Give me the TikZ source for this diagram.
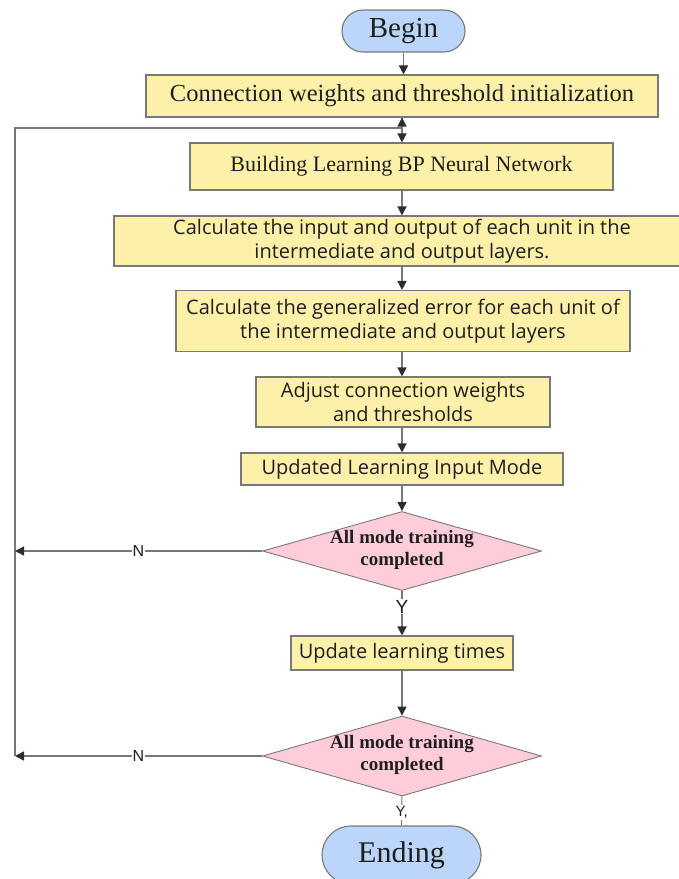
\documentclass[tikz,border=0pt]{standalone}
\usepackage{fontspec}
\setmainfont{Liberation Serif}
\newfontfamily\segoe{Open Sans}
\newfontfamily\arialf{Liberation Sans}
\usetikzlibrary{shapes.geometric,arrows.meta}
\definecolor{linegray}{RGB}{120,120,120}
\definecolor{boxyellow}{RGB}{253,241,170}
\definecolor{termblue}{RGB}{187,214,250}
\definecolor{diapink}{RGB}{255,205,218}
\definecolor{textdark}{RGB}{30,30,30}
\definecolor{tipdark}{RGB}{45,45,45}
\begin{document}
\begin{tikzpicture}[x=1pt,y=-1pt,
  box/.style={draw=linegray, fill=boxyellow, line width=1.1pt, inner sep=0pt, align=center, text=textdark},
  term/.style={draw=linegray, fill=termblue, line width=1.1pt, inner sep=0pt, text=textdark},
  dia/.style={diamond, draw=linegray, fill=diapink, line width=0.9pt, inner sep=0pt, minimum width=279pt},
  arr/.style={draw=linegray, line width=1.4pt, -{Triangle[length=9pt,width=9pt,color=tipdark]}},
  ln/.style={draw=linegray, line width=1.4pt},
  lab/.style={fill=white, inner sep=1pt, text=textdark, font=\arialf\fontsize{16}{18}\selectfont},
  sfbox/.style={box, font=\segoe\fontsize{20}{24}\selectfont},
  ditext/.style={align=center, text=textdark, font=\bfseries\fontsize{19}{21.5}\selectfont}
]
\useasboundingbox (0,0) rectangle (679,879);
\clip (0,0) rectangle (679,879);

\node[term, minimum width=123pt, minimum height=42pt, rounded corners=21pt,
      font=\fontsize{29}{32}\selectfont] (begin) at (403.5,31) {Begin};
\node[box, minimum width=512pt, minimum height=42pt,
      font=\fontsize{24.5}{28}\selectfont] (b1) at (402,96) {Connection weights and threshold initialization};
\node[box, minimum width=423pt, minimum height=47pt,
      font=\fontsize{22}{25}\selectfont] (b2) at (401.5,166.5) {Building Learning BP Neural Network};
\node[sfbox, minimum width=576pt, minimum height=50pt] (b3) at (402,241)
      {Calculate the input and output of each unit in the\\intermediate and output layers.};
\node[sfbox, minimum width=454pt, minimum height=61pt] (b4) at (403,321)
      {Calculate the generalized error for each unit of\\the intermediate and output layers};
\node[sfbox, minimum width=294pt, minimum height=50pt] (b5) at (403,402)
      {Adjust connection weights\\and thresholds};
\node[sfbox, minimum width=322pt, minimum height=32pt] (b6) at (402,469)
      {Updated Learning Input Mode};
\node[dia, minimum height=79pt] (d1) at (402,551) {};
\node[ditext] (d1t) at (402,550) {All mode training\\completed};
\node[sfbox, minimum width=222pt, minimum height=34pt] (b7) at (402,653)
      {Update learning times};
\node[dia, minimum height=80pt] (d2) at (402,756) {};
\node[ditext] (d2t) at (402,755) {All mode training\\completed};
\node[term, minimum width=159pt, minimum height=58pt, rounded corners=29pt,
      font=\fontsize{30}{34}\selectfont] (end) at (401.5,855) {Ending};

\coordinate (top) at (15,128);
\coordinate (join) at (402,128);
\coordinate (l1) at (15,551);
\coordinate (l2) at (15,756);

\draw[arr] (begin.south) -- (begin.south |- b1.north);
\draw[arr] (b1.south -| join) -- (join |- b2.north);
\draw[ln] (l2) -- (top) -- (join);
\draw[arr] (join) -- (b1.south -| join);
\draw[arr] (b2.south -| join) -- (join |- b3.north);
\draw[arr] (b3.south -| join) -- (join |- b4.north);
\draw[arr] (b4.south -| join) -- (join |- b5.north);
\draw[arr] (b5.south -| join) -- (join |- b6.north);
\draw[arr] (b6.south -| join) -- (d1.north);
\draw[arr] (d1.west) -- node[lab, pos=0.5] (n1) {N} (l1);
\draw[arr] (d1.south) -- node[lab, pos=0.35, font=\arialf\fontsize{19}{21}\selectfont] (y1) {Y} (b7.north);
\draw[arr] (b7.south) -- (d2.north);
\draw[arr] (d2.west) -- node[lab, pos=0.5] (n2) {N} (l2);
\draw[ln, line width=1pt] (d2.south) -- node[lab, pos=0.55, font=\arialf\fontsize{15}{17}\selectfont] (y2) {Y,} (end.north);
\end{tikzpicture}
\end{document}
